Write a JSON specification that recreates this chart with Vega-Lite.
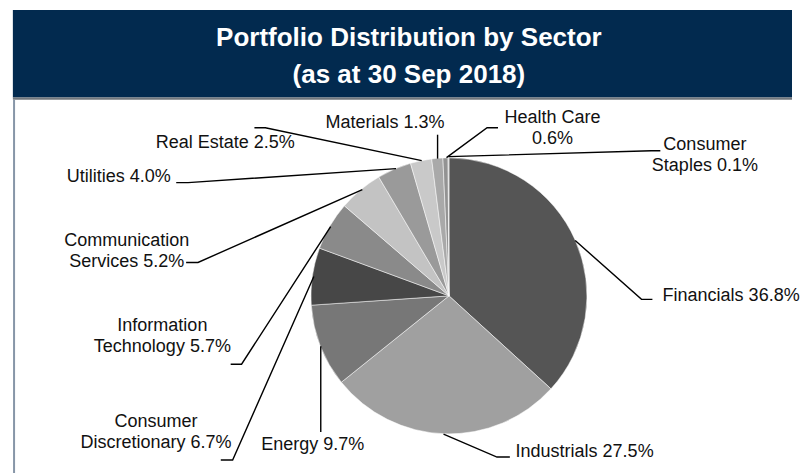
{
  "$schema": "https://vega.github.io/schema/vega-lite/v6.json",
  "width": 800,
  "height": 474,
  "autosize": {"type": "fit", "contains": "padding"},
  "padding": 0,
  "background": "#ffffff",
  "config": {"view": {"stroke": null}, "font": "Liberation Sans"},
  "datasets": {
    "sectors": [
      {"sector": "Financials", "share": 36.8},
      {"sector": "Industrials", "share": 27.5},
      {"sector": "Energy", "share": 9.7},
      {"sector": "Consumer Discretionary", "share": 6.7},
      {"sector": "Information Technology", "share": 5.7},
      {"sector": "Communication Services", "share": 5.2},
      {"sector": "Utilities", "share": 4.0},
      {"sector": "Real Estate", "share": 2.5},
      {"sector": "Materials", "share": 1.3},
      {"sector": "Health Care", "share": 0.6},
      {"sector": "Consumer Staples", "share": 0.1}
    ],
    "leaders": [
      {"lead": "Real Estate", "seq": 0, "px": 426, "py": 161},
      {"lead": "Real Estate", "seq": 1, "px": 268, "py": 128},
      {"lead": "Real Estate", "seq": 2, "px": 257, "py": 128},
      {"lead": "Utilities", "seq": 0, "px": 400, "py": 169},
      {"lead": "Utilities", "seq": 1, "px": 190, "py": 183},
      {"lead": "Utilities", "seq": 2, "px": 178, "py": 183},
      {"lead": "Communication Services", "seq": 0, "px": 366, "py": 190},
      {"lead": "Communication Services", "seq": 1, "px": 200, "py": 263},
      {"lead": "Communication Services", "seq": 2, "px": 188, "py": 263},
      {"lead": "Information Technology", "seq": 0, "px": 334, "py": 227},
      {"lead": "Information Technology", "seq": 1, "px": 244, "py": 365},
      {"lead": "Information Technology", "seq": 2, "px": 233, "py": 365},
      {"lead": "Consumer Discretionary", "seq": 0, "px": 317, "py": 277},
      {"lead": "Consumer Discretionary", "seq": 1, "px": 235, "py": 461},
      {"lead": "Consumer Discretionary", "seq": 2, "px": 223, "py": 461},
      {"lead": "Energy", "seq": 0, "px": 324, "py": 347},
      {"lead": "Energy", "seq": 1, "px": 324, "py": 433},
      {"lead": "Industrials", "seq": 0, "px": 448, "py": 435},
      {"lead": "Industrials", "seq": 1, "px": 502, "py": 458},
      {"lead": "Industrials", "seq": 2, "px": 515, "py": 458},
      {"lead": "Financials", "seq": 0, "px": 581, "py": 241},
      {"lead": "Financials", "seq": 1, "px": 648, "py": 300},
      {"lead": "Financials", "seq": 2, "px": 659, "py": 300},
      {"lead": "Materials", "seq": 0, "px": 442, "py": 159},
      {"lead": "Materials", "seq": 1, "px": 442, "py": 135},
      {"lead": "Health Care", "seq": 0, "px": 451, "py": 158},
      {"lead": "Health Care", "seq": 1, "px": 492, "py": 128},
      {"lead": "Health Care", "seq": 2, "px": 503, "py": 128},
      {"lead": "Consumer Staples", "seq": 0, "px": 453, "py": 157},
      {"lead": "Consumer Staples", "seq": 1, "px": 658, "py": 151},
      {"lead": "Consumer Staples", "seq": 2, "px": 667, "py": 151}
    ],
    "labels": [
      {"label": "Real Estate 2.5%", "lx": 227.5, "ly": 143},
      {"label": "Utilities 4.0%", "lx": 120, "ly": 177},
      {"label": "Communication\nServices 5.2%", "lx": 128, "ly": 242},
      {"label": "Information\nTechnology 5.7%", "lx": 164, "ly": 327},
      {"label": "Consumer\nDiscretionary 6.7%", "lx": 157.5, "ly": 423},
      {"label": "Energy 9.7%", "lx": 316, "ly": 446},
      {"label": "Industrials 27.5%", "lx": 590.5, "ly": 453},
      {"label": "Financials 36.8%", "lx": 738.5, "ly": 297},
      {"label": "Materials 1.3%", "lx": 389, "ly": 123},
      {"label": "Health Care\n0.6%", "lx": 558, "ly": 118},
      {"label": "Consumer\nStaples 0.1%", "lx": 712, "ly": 145}
    ]
  },
  "layer": [
    {
      "data": {"values": [{}]},
      "mark": {"type": "rect", "color": "#022a4f"},
      "encoding": {
        "x": {"datum": 13, "type": "quantitative", "scale": {"domain": [0, 800], "nice": false, "zero": false}, "axis": null},
        "x2": {"datum": 800},
        "y": {"datum": 10, "type": "quantitative", "scale": {"domain": [0, 474], "reverse": true, "nice": false, "zero": false}, "axis": null},
        "y2": {"datum": 97.7}
      }
    },
    {
      "data": {"values": [{}]},
      "mark": {"type": "rect", "color": "#72777d"},
      "encoding": {
        "x": {"datum": 13, "type": "quantitative"},
        "x2": {"datum": 800},
        "y": {"datum": 97.7, "type": "quantitative"},
        "y2": {"datum": 100}
      }
    },
    {
      "data": {"values": [{}]},
      "mark": {"type": "rule", "color": "#8796a8", "strokeWidth": 2},
      "encoding": {
        "x": {"datum": 14.2, "type": "quantitative"},
        "y": {"datum": 100, "type": "quantitative"},
        "y2": {"datum": 474}
      }
    },
    {
      "data": {"values": [{}]},
      "mark": {
        "type": "text",
        "text": "Portfolio Distribution by Sector\n(as at 30 Sep 2018)",
        "lineBreak": "\n",
        "lineHeight": 37,
        "fontSize": 26,
        "fontWeight": "bold",
        "font": "Liberation Sans",
        "color": "#ffffff",
        "align": "center",
        "baseline": "alphabetic"
      },
      "encoding": {
        "x": {"datum": 413, "type": "quantitative"},
        "y": {"datum": 46.5, "type": "quantitative"}
      }
    },
    {
      "data": {"name": "sectors"},
      "mark": {"type": "arc", "radius": 138, "stroke": "#ffffff", "strokeWidth": 0.5},
      "encoding": {
        "theta": {"field": "share", "type": "quantitative", "stack": true},
        "order": {"field": "share", "sort": "descending"},
        "color": {
          "field": "sector",
          "type": "nominal",
          "scale": {
            "domain": ["Financials", "Industrials", "Energy", "Consumer Discretionary", "Information Technology", "Communication Services", "Utilities", "Real Estate", "Materials", "Health Care", "Consumer Staples"],
            "range": ["#555555", "#a0a0a0", "#777777", "#474747", "#8a8a8a", "#c3c3c3", "#9a9a9a", "#c9c9c9", "#a9a9a9", "#939393", "#bdbdbd"]
          },
          "legend": null
        },
        "x": {"datum": 453.5, "type": "quantitative"},
        "y": {"datum": 296.5, "type": "quantitative"}
      }
    },
    {
      "data": {"name": "leaders"},
      "mark": {"type": "line", "color": "#000000", "strokeWidth": 1.4},
      "encoding": {
        "x": {"field": "px", "type": "quantitative"},
        "y": {"field": "py", "type": "quantitative"},
        "detail": {"field": "lead", "type": "nominal"},
        "order": {"field": "seq", "type": "quantitative"}
      }
    },
    {
      "data": {"name": "labels"},
      "mark": {
        "type": "text",
        "fontSize": 18,
        "lineBreak": "\n",
        "lineHeight": 21,
        "align": "center",
        "baseline": "middle",
        "color": "#111111",
        "font": "Liberation Sans"
      },
      "encoding": {
        "x": {"field": "lx", "type": "quantitative"},
        "y": {"field": "ly", "type": "quantitative"},
        "text": {"field": "label", "type": "nominal"}
      }
    }
  ]
}
